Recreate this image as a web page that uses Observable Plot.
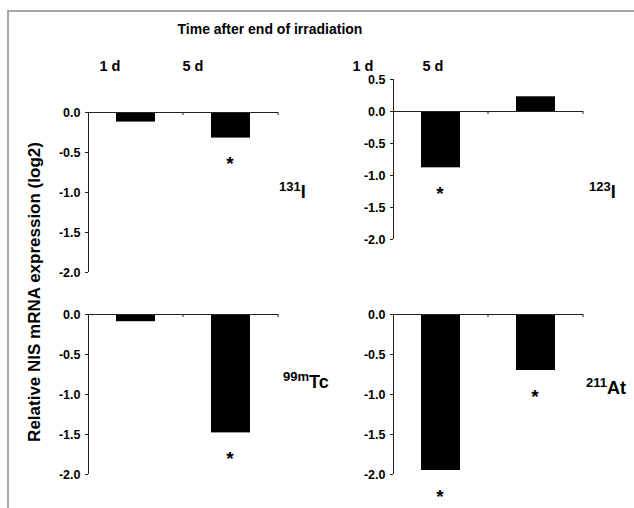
<!DOCTYPE html>
<html>
<head>
<meta charset="utf-8">
<script src="https://cdn.jsdelivr.net/npm/d3@7"></script>
<script src="https://cdn.jsdelivr.net/npm/@observablehq/plot@0.6"></script>
<style>
  html, body { margin: 0; padding: 0; background: #fff; }
  #wrap { position: relative; width: 634px; height: 508px; overflow: hidden; background: #fff;
          font-family: "Liberation Sans", Arial, sans-serif; font-weight: bold; color: #000; }
  #border { position: absolute; left: 7px; top: 10px; right: -10px; bottom: -10px;
            border-top: 2px solid #a8a8a8; border-left: 2px solid #a8a8a8; }
  .abs { position: absolute; white-space: nowrap; line-height: 16px; }
  .pl { position: absolute; }
  .iso { font-size: 18px; }
  .iso sup { font-size: 13px; position: relative; top: -7px; vertical-align: baseline; }
</style>
</head>
<body>
<div id="wrap"><div id="border"></div></div>
<script>
// ---- data ----
const times = ["1 d", "5 d"];
const isotopeLabels = [["131", "I"], ["123", "I"], ["99m", "Tc"], ["211", "At"]];
const values131I = [-0.12, -0.32];
const sig131I = [false, true];
const values123I = [-0.88, 0.23];
const sig123I = [true, false];
const values99mTc = [-0.09, -1.48];
const sig99mTc = [false, true];
const values211At = [-1.95, -0.70];
const sig211At = [true, true];
const ticksMain = [0, -0.5, -1, -1.5, -2];
const ticks123 = [0.5, 0, -0.5, -1, -1.5, -2];
const titleText = "Time after end of irradiation";
const yTitle = "Relative NIS mRNA expression (log2)";

const wrap = document.getElementById("wrap");

function axisLines() {
  return (index, scales, values, dims) => {
    const g = d3.create("svg:g").attr("stroke", "#222").attr("stroke-width", 1);
    const x0 = dims.marginLeft, x1 = dims.width - dims.marginRight;
    g.append("line").attr("x1", x0 + 0.5).attr("x2", x0 + 0.5)
      .attr("y1", dims.marginTop).attr("y2", dims.height - dims.marginBottom);
    const y0 = scales.y(0);
    const n = times.length;
    for (let k = 1; k <= n; k++) {
      const xx = x0 + (x1 - x0) * k / n;
      g.append("line").attr("x1", xx).attr("x2", xx).attr("y1", y0).attr("y2", y0 + 3);
    }
    return g.node();
  };
}

function panel(values, sig, ticks, domain, left, top) {
  const data = times.map((t, i) => ({time: t, value: values[i], sig: sig[i]}));
  const frameH = 160 * (domain[1] - domain[0]) / 2 * (domain[1] - domain[0] > 2 ? 0.8 : 1);
  const p = Plot.plot({
    width: 245,
    height: 10 + frameH + 35,
    marginLeft: 50, marginRight: 5, marginTop: 10, marginBottom: 35,
    style: {background: "transparent", fontFamily: "'Liberation Sans', Arial, sans-serif",
            fontSize: "12.5px", fontWeight: "bold", color: "black", overflow: "visible"},
    x: {domain: times, axis: null, paddingInner: 0.589, paddingOuter: 0.2945},
    y: {domain, axis: null},
    marks: [
      Plot.barY(data, {x: "time", y1: 0, y2: "value", fill: "#000"}),
      Plot.ruleY([0], {stroke: "#222"}),
      axisLines(),
      Plot.axisY(ticks, {label: null, tickSize: 3, tickPadding: 5, tickFormat: d => d.toFixed(1),
                         fontWeight: "bold", fontSize: 12.5, fill: "#000", stroke: "#222"}),
      Plot.text(data.filter(d => d.sig), {x: "time", y: "value", text: () => "*",
                dy: 26, dx: -1, fontSize: 19, fontWeight: "bold", fill: "#000"})
    ]
  });
  p.classList.add("pl");
  p.style.left = left + "px";
  p.style.top = top + "px";
  wrap.appendChild(p);
}

panel(values131I, sig131I, ticksMain, [-2, 0], 38, 102);
panel(values123I, sig123I, ticks123, [-2, 0.5], 343, 68.5);
panel(values99mTc, sig99mTc, ticksMain, [-2, 0], 38, 304);
panel(values211At, sig211At, ticksMain, [-2, 0], 343, 304);

function addText(html, left, top, size, extra) {
  const d = document.createElement("div");
  d.className = "abs" + (extra ? " " + extra : "");
  d.style.left = left + "px";
  d.style.top = top + "px";
  if (size) d.style.fontSize = size + "px";
  d.innerHTML = html;
  wrap.appendChild(d);
  return d;
}

// title centered at x=270
const t = addText(titleText, 0, 21, 14);
t.style.left = (270 - t.offsetWidth / 2) + "px";

// column headers
const headerCenters = [[110, 193], [363, 433]];
headerCenters.forEach(cs => cs.forEach((cx, i) => {
  const h = addText(times[i], 0, 58, 14.5);
  h.style.left = (cx - h.offsetWidth / 2) + "px";
}));

// isotope labels (left, baseline)
const isoPos = [[279, 197], [589, 197], [283, 387], [586, 393]];
isotopeLabels.forEach(([sup, main], i) => {
  addText(`<sup>${sup}</sup>${main}`, isoPos[i][0], isoPos[i][1] - 13.5, null, "iso");
});

// y title rotated
const yt = addText(yTitle, 0, 0, 17);
const w = yt.offsetWidth;
yt.style.left = (35 - w / 2) + "px";
yt.style.top = (292 - 8) + "px";
yt.style.transform = "rotate(-90deg)";
yt.style.transformOrigin = "50% 50%";
</script>
</body>
</html>
